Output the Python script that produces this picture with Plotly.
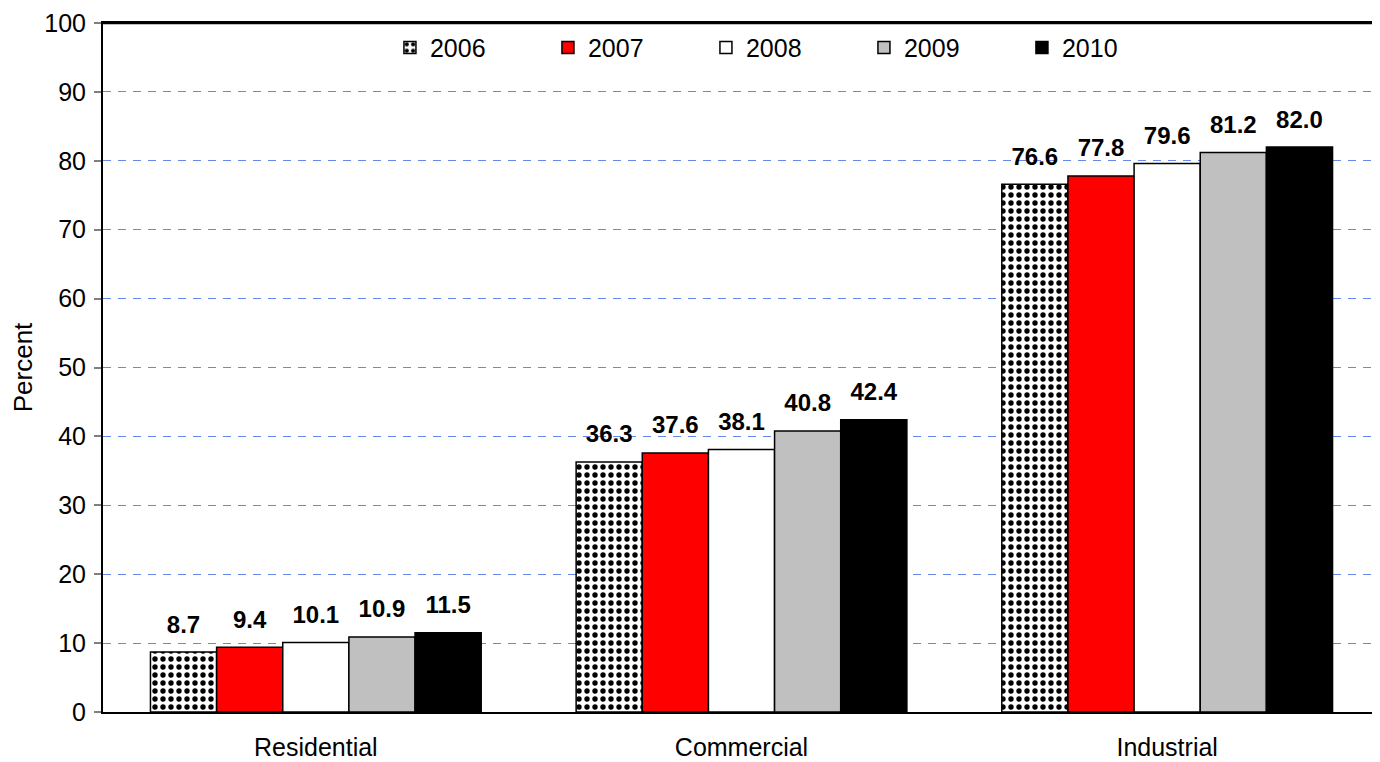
import plotly.graph_objects as go

categories = ["Residential", "Commercial", "Industrial"]
years = ["2006", "2007", "2008", "2009", "2010"]
values = {
    "2006": [8.7, 36.3, 76.6],
    "2007": [9.4, 37.6, 77.8],
    "2008": [10.1, 38.1, 79.6],
    "2009": [10.9, 40.8, 81.2],
    "2010": [11.5, 42.4, 82.0],
}
fill_colors = {"2006": "white", "2007": "#FF0000", "2008": "#FFFFFF", "2009": "#C0C0C0", "2010": "#000000"}
y_ticks = list(range(0, 101, 10))

FONT = "Arial, Liberation Sans, sans-serif"

fig = go.Figure()
for yr in years:
    marker = dict(color=fill_colors[yr], line=dict(color="black", width=1.5))
    if yr == "2006":
        marker["pattern"] = dict(shape=".", fgcolor="black", bgcolor="white", size=8, solidity=0.35, fillmode="replace")
    fig.add_trace(go.Bar(
        x=categories, y=values[yr], name=yr, offsetgroup=yr,
        marker=marker,
    ))

for yr in years:
    fig.add_trace(go.Scatter(
        x=categories, y=values[yr], mode="markers+text", offsetgroup=yr,
        text=[f"{v:.1f}" for v in values[yr]], textposition="top center",
        textfont=dict(family=FONT, size=24, color="black", weight="bold"),
        marker=dict(size=20, opacity=0), showlegend=False, hoverinfo="skip",
        cliponaxis=False,
    ))

fig.update_layout(
    width=1372, height=754,
    margin=dict(l=95, r=0, t=15, b=50, autoexpand=False),
    paper_bgcolor="white", plot_bgcolor="white",
    barmode="group", bargap=0.223, bargroupgap=0,
    scattermode="group", scattergap=0.223,
    font=dict(family=FONT, size=25, color="black"),
    showlegend=True,
    legend=dict(
        orientation="h", x=0.2247, y=0.964, xanchor="left", yanchor="middle",
        entrywidth=113, entrywidthmode="pixels", bgcolor="rgba(0,0,0,0)",
        font=dict(family=FONT, size=25, color="black"), itemwidth=30,
        borderwidth=0,
    ),
    xaxis=dict(
        showline=True, linecolor="black", linewidth=2, mirror=True,
        ticks="", showgrid=False, tickfont=dict(size=25), ticklabelstandoff=12,
    ),
    yaxis=dict(
        range=[0, 100], tickvals=y_ticks, showline=True, linecolor="black", linewidth=2,
        ticks="outside", ticklen=7, tickcolor="#808080", tickwidth=1.5,
        showgrid=True, gridcolor="#6688EA", griddash="8px,7px", gridwidth=1,
        zeroline=False, tickfont=dict(size=25), ticklabelstandoff=3,
        ticklabeloverflow="allow",
        title=dict(text="Percent", font=dict(size=26), standoff=22),
    ),
    shapes=[dict(type="line", xref="paper", yref="paper", x0=0, x1=1, y0=1, y1=1,
                 line=dict(color="black", width=2.5), layer="above")],
)

fig.write_html("out.html")
